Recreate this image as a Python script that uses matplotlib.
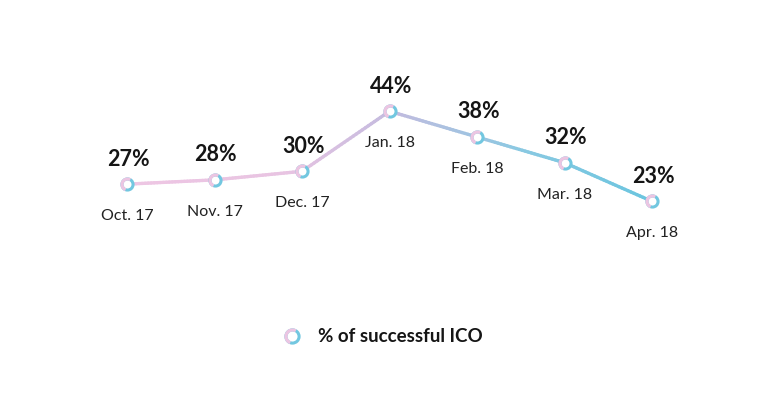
import numpy as np
import matplotlib.pyplot as plt
from matplotlib.collections import LineCollection
from matplotlib.colors import LinearSegmentedColormap
from matplotlib.lines import Line2D
from matplotlib.path import Path

plt.rcParams['font.family'] = ['Lato', 'DejaVu Sans']

months = ['Oct. 17', 'Nov. 17', 'Dec. 17', 'Jan. 18', 'Feb. 18', 'Mar. 18', 'Apr. 18']
success = [27, 28, 30, 44, 38, 32, 23]
legend_label = '% of successful ICO'

pink = '#ecc5e2'
blue = '#72c7e0'
grad = LinearSegmentedColormap.from_list(
    'ico', [(0, '#eec6e3'), (0.3, '#e8c4e2'), (0.5, '#c4bbdf'),
            (0.75, '#8ac9e2'), (1, '#6ac5df')])

fig = plt.figure(figsize=(7.84, 4.03), dpi=100)
ax = fig.add_axes([0.1062, 1 - 300 / 403, 0.7813, 240 / 403])
ax.set_xlim(-0.5, 6.5)
ax.set_ylim(0, 55.94)
ax.axis('off')

x = np.arange(len(months))
y = np.array(success, dtype=float)

# gradient line: split each segment into small pieces for colouring
segs, cols = [], []
for i in range(len(x) - 1):
    t = np.linspace(0, 1, 30)
    xs = x[i] + (x[i + 1] - x[i]) * t
    ys = y[i] + (y[i + 1] - y[i]) * t
    for j in range(len(t) - 1):
        segs.append([(xs[j], ys[j]), (xs[j + 1], ys[j + 1])])
        cols.append(grad(xs[j] / (len(x) - 1)))
lc = LineCollection(segs, colors=cols, linewidths=2.4, capstyle='round', zorder=2)
ax.add_collection(lc)

left_arc = Path.arc(60, 250)
ax.plot(x, y, 'o', ms=8, mfc='white', mec=blue, mew=2.2, zorder=3)
ax.plot(x, y, ls='none', marker=left_arc, ms=8, mfc='none', mec=pink, mew=2.3, zorder=4)

for xi, yi, m in zip(x, y, months):
    ax.annotate(f'{int(yi)}%', (xi, yi), xytext=(1, 18), textcoords='offset points',
                ha='center', va='center', fontsize=15.5, fontweight='bold', color='#151515')
    ax.annotate(m, (xi, yi), xytext=(0, -23), textcoords='offset points',
                ha='center', va='center', fontsize=11.5, color='#222222')

# legend
lx, ly = 292 / 784, 1 - 336 / 403
fig.add_artist(Line2D([lx], [ly], marker='o', ms=9.5, mfc='white', mec=blue, mew=2.2,
                      transform=fig.transFigure))
fig.add_artist(Line2D([lx], [ly], ls='none', marker=left_arc, ms=9.5, mfc='none', mec=pink,
                      mew=2.3, transform=fig.transFigure))
fig.text(318 / 784, ly, legend_label, ha='left', va='center', fontsize=13.5,
         fontweight='bold', color='#151515')

fig.savefig('out.png', dpi=100, facecolor='white')
